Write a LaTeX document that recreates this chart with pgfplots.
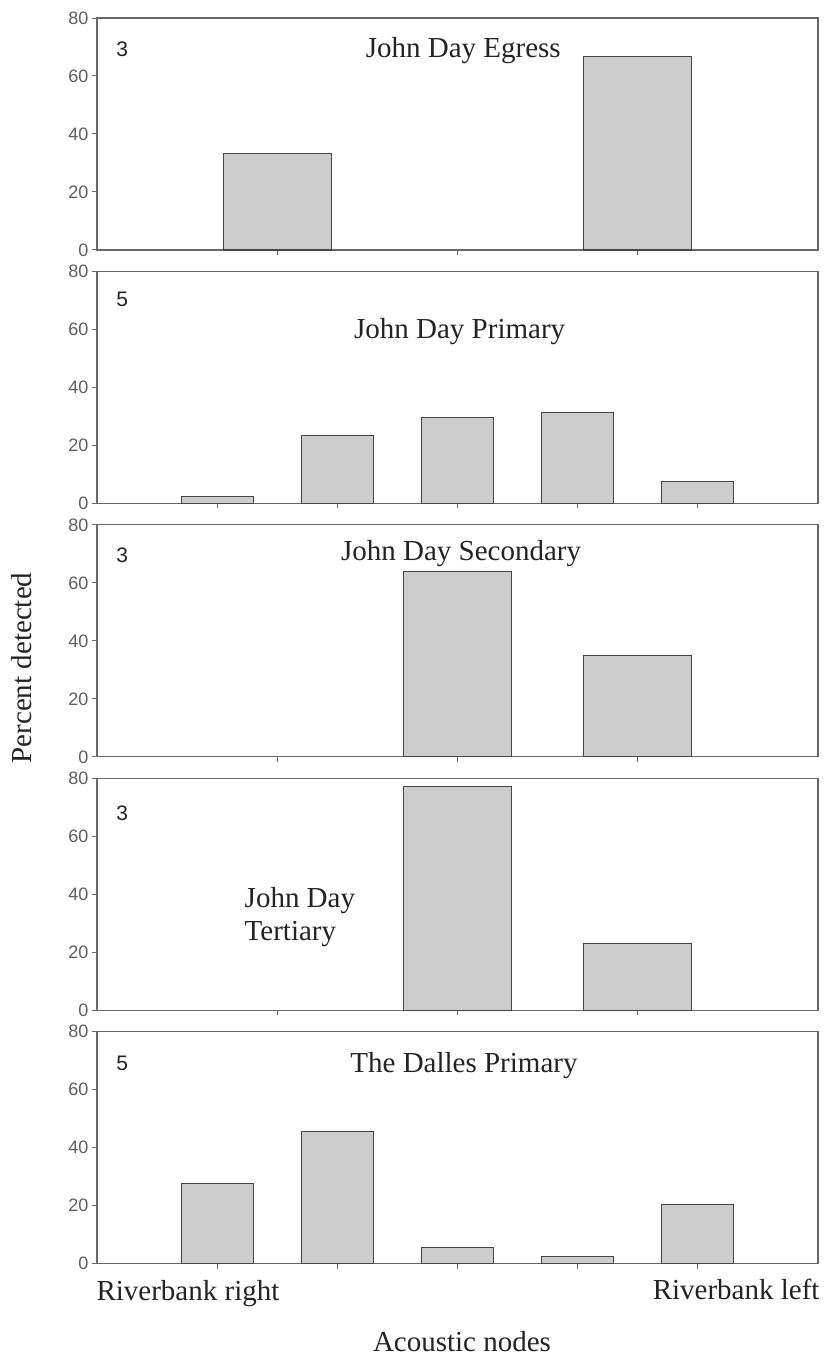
\documentclass[border=0pt]{standalone}
\usepackage{pgfplots}
\pgfplotsset{compat=1.18}
\usepackage{fontspec}
\setmainfont{Liberation Serif}
\newfontfamily\arial{Liberation Sans}
\definecolor{axisgray}{RGB}{105,105,105}
\definecolor{barfill}{RGB}{204,204,204}
\definecolor{baredge}{RGB}{70,70,70}
\definecolor{ticktext}{RGB}{95,95,95}
\definecolor{titletext}{RGB}{35,35,35}

\pgfplotsset{panel/.style={
  scale only axis, width=721pt, height=232pt, anchor=north west,
  ymin=0, ymax=80, ytick={0,20,40,60,80},
  xticklabels={},
  tick pos=left, tick align=outside, major tick length=5pt,
  axis line style={axisgray, line width=1.2pt},
  tick style={axisgray, line width=1pt},
  yticklabel style={font=\arial\fontsize{18}{18}\selectfont, text=ticktext},
  /pgf/number format/assume math mode=true,
  ybar, bar width=0.6,
  clip=false,
}}
\tikzset{
  numlab/.style={font=\arial\fontsize{21}{21}\selectfont, text=titletext},
  titlab/.style={font=\fontsize{29}{33}\selectfont, text=titletext},
  barstyle/.style={fill=barfill, draw=baredge, line width=1.1pt},
}

\begin{document}
\begin{tikzpicture}
\path[use as bounding box] (0pt,0pt) rectangle (825pt,-1365pt);

% Panel 1
\begin{axis}[panel, at={(97pt,-18pt)}, xmin=0, xmax=4, xtick={1,2,3}]
\addplot[barstyle] coordinates {(1,33.3) (3,66.7)};
\node[numlab] at (rel axis cs:0.035,0.865) {3};
\node[titlab] at (rel axis cs:0.508,0.86) {John Day Egress};
\end{axis}

% Panel 2
\begin{axis}[panel, at={(97pt,-271.4pt)}, xmin=0, xmax=6, xtick={1,2,3,4,5}]
\addplot[barstyle] coordinates {(1,2.5) (2,23.5) (3,29.5) (4,31.5) (5,7.5)};
\node[numlab] at (rel axis cs:0.035,0.88) {5};
\node[titlab] at (rel axis cs:0.503,0.74) {John Day Primary};
\end{axis}

% Panel 3
\begin{axis}[panel, at={(97pt,-524.8pt)}, xmin=0, xmax=4, xtick={1,2,3}]
\addplot[barstyle] coordinates {(2,64) (3,35)};
\node[numlab] at (rel axis cs:0.035,0.87) {3};
\node[titlab] at (rel axis cs:0.505,0.875) {John Day Secondary};
\end{axis}

% Panel 4
\begin{axis}[panel, at={(97pt,-778.2pt)}, xmin=0, xmax=4, xtick={1,2,3}]
\addplot[barstyle] coordinates {(2,77) (3,23)};
\node[numlab] at (rel axis cs:0.035,0.85) {3};
\node[titlab, anchor=west, align=left] at (rel axis cs:0.2,0.40) {John Day\\Tertiary};
\end{axis}

% Panel 5
\begin{axis}[panel, at={(97pt,-1031.6pt)}, xmin=0, xmax=6, xtick={1,2,3,4,5}]
\addplot[barstyle] coordinates {(1,27.5) (2,45.5) (3,5.5) (4,2.5) (5,20.5)};
\node[numlab] at (rel axis cs:0.035,0.865) {5};
\node[titlab] at (rel axis cs:0.509,0.855) {The Dalles Primary};
\end{axis}

\node[titlab, rotate=90] at (22pt,-668pt) {Percent detected};
\node[titlab, anchor=west] at (93pt,-1294pt) {Riverbank right};
\node[titlab, anchor=east] at (823pt,-1289pt) {Riverbank left};
\node[titlab] at (462pt,-1342pt) {Acoustic nodes};
\end{tikzpicture}
\end{document}
